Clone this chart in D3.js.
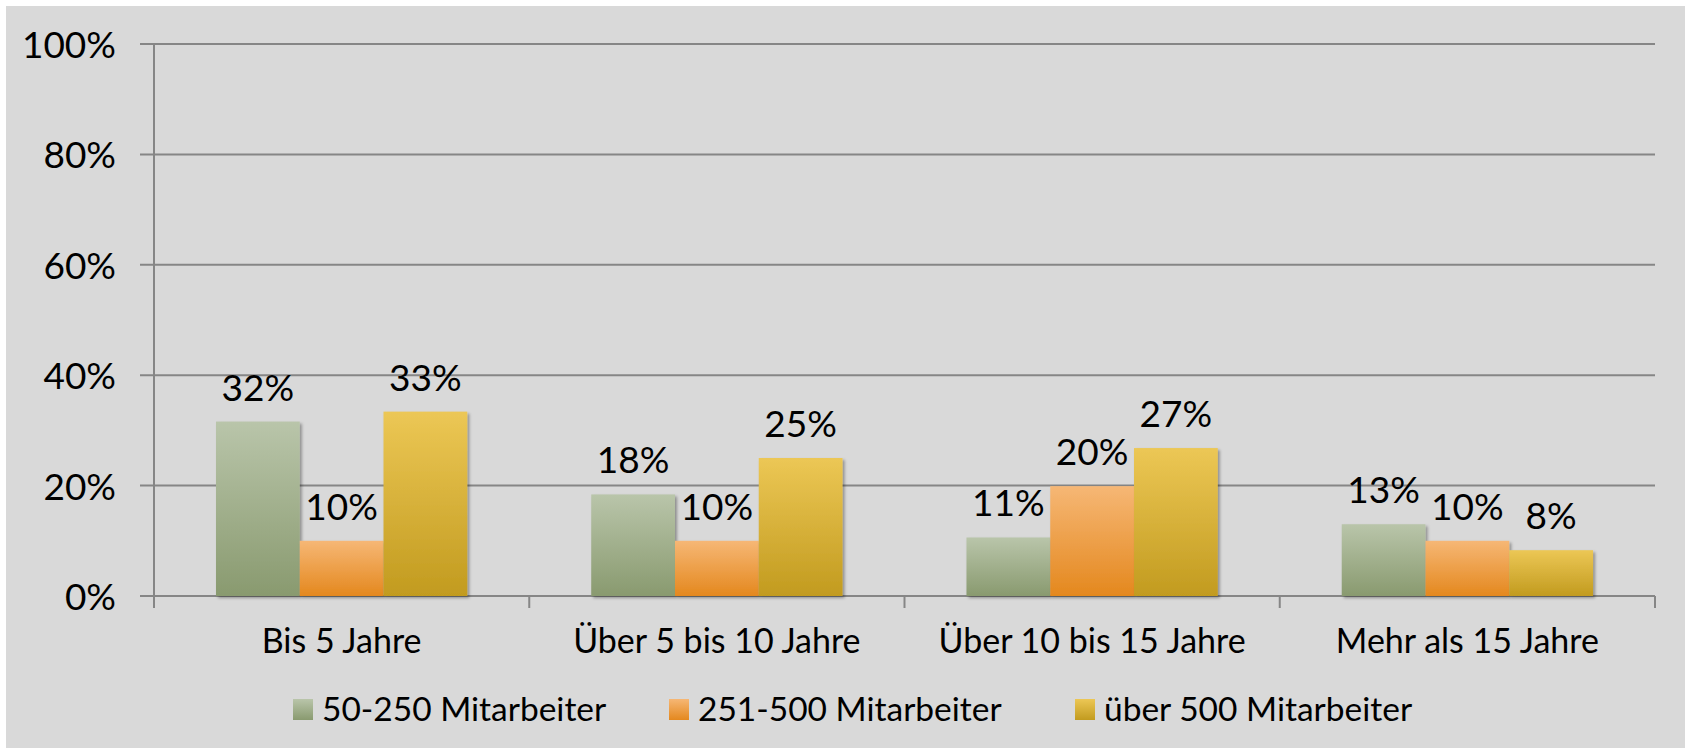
<!DOCTYPE html>
<html>
<head>
<meta charset="utf-8">
<script src="https://cdn.jsdelivr.net/npm/d3@7"></script>
<style>
  html, body { margin: 0; padding: 0; background: #ffffff; }
  svg { display: block; font-family: 'Lato', 'Open Sans', sans-serif; }
</style>
</head>
<body>
<div id="chart"></div>
<script>
const categories = ['Bis 5 Jahre', 'Über 5 bis 10 Jahre', 'Über 10 bis 15 Jahre', 'Mehr als 15 Jahre'];
const seriesNames = ['50-250 Mitarbeiter', '251-500 Mitarbeiter', 'über 500 Mitarbeiter'];
const small = [31.6, 18.4, 10.6, 13.0];
const medium = [10.0, 10.0, 19.9, 10.0];
const large = [33.4, 25.0, 26.8, 8.3];
const yTicks = [0, 20, 40, 60, 80, 100];

const width = 1685;
const height = 748;

const colors = [
  ['#b9c5aa', '#899a6f'],
  ['#f6b775', '#e4881e'],
  ['#ecc755', '#c29b1f']
];

const seriesValues = [small, medium, large];

const svg = d3.select('#chart')
  .append('svg')
  .attr('width', width)
  .attr('height', height);

const defs = svg.append('defs');

colors.forEach((c, i) => {
  const g = defs.append('linearGradient')
    .attr('id', 'grad' + i)
    .attr('x1', 0).attr('y1', 0).attr('x2', 0).attr('y2', 1);
  g.append('stop').attr('offset', '0%').attr('stop-color', c[0]);
  g.append('stop').attr('offset', '100%').attr('stop-color', c[1]);
});

const shadow = defs.append('filter')
  .attr('id', 'shadow')
  .attr('x', '-10%').attr('y', '-10%')
  .attr('width', '130%').attr('height', '130%');
shadow.append('feDropShadow')
  .attr('dx', 2).attr('dy', 2)
  .attr('stdDeviation', 1.5)
  .attr('flood-color', '#000')
  .attr('flood-opacity', 0.35);

// background panel
svg.append('rect')
  .attr('x', 6).attr('y', 6)
  .attr('width', width - 6).attr('height', height - 6)
  .attr('fill', '#d9d9d9');

const x0 = d3.scaleBand()
  .domain(categories)
  .range([154, 1655])
  .paddingInner(0)
  .paddingOuter(0);

const x1 = d3.scaleBand()
  .domain(seriesNames)
  .range([0, x0.bandwidth()])
  .paddingInner(0)
  .paddingOuter(0.74);

const y = d3.scaleLinear()
  .domain([0, 100])
  .range([596, 44]);

// gridlines
svg.append('g')
  .selectAll('line')
  .data(yTicks)
  .enter()
  .append('line')
  .attr('x1', 140)
  .attr('x2', 1655)
  .attr('y1', d => y(d))
  .attr('y2', d => y(d))
  .attr('stroke', '#868686')
  .attr('stroke-width', 2);

// y axis line
svg.append('line')
  .attr('x1', 154).attr('x2', 154)
  .attr('y1', y(100)).attr('y2', y(0) + 12)
  .attr('stroke', '#868686')
  .attr('stroke-width', 2);

// category ticks
const bounds = categories.map(c => x0(c) + x0.bandwidth()).concat([x0(categories[0])]);
svg.append('g')
  .selectAll('line')
  .data(bounds)
  .enter()
  .append('line')
  .attr('x1', d => d)
  .attr('x2', d => d)
  .attr('y1', y(0))
  .attr('y2', y(0) + 12)
  .attr('stroke', '#868686')
  .attr('stroke-width', 2);

// y tick labels
svg.append('g')
  .selectAll('text')
  .data(yTicks)
  .enter()
  .append('text')
  .attr('x', 116)
  .attr('y', d => y(d) + 14)
  .attr('text-anchor', 'end')
  .style('font-size', '37px')
  .attr('fill', '#000')
  .text(d => d + '%');

// bars
const groups = svg.append('g')
  .selectAll('g')
  .data(categories)
  .enter()
  .append('g')
  .attr('transform', c => 'translate(' + x0(c) + ',0)');

const cells = groups.selectAll('g')
  .data((c, ci) => seriesNames.map((s, si) => ({ s, si, v: seriesValues[si][ci] })))
  .enter()
  .append('g');

cells.append('rect')
  .attr('x', d => x1(d.s))
  .attr('y', d => y(d.v))
  .attr('width', x1.bandwidth())
  .attr('height', d => y(0) - y(d.v))
  .attr('fill', d => 'url(#grad' + d.si + ')')
  .attr('filter', 'url(#shadow)');

cells.append('text')
  .attr('x', d => x1(d.s) + x1.bandwidth() / 2)
  .attr('y', d => y(d.v) - 21)
  .attr('text-anchor', 'middle')
  .style('font-size', '37px')
  .attr('fill', '#000')
  .text(d => Math.round(d.v) + '%');

// category labels
svg.append('g')
  .selectAll('text')
  .data(categories)
  .enter()
  .append('text')
  .attr('x', c => x0(c) + x0.bandwidth() / 2)
  .attr('y', 653)
  .attr('text-anchor', 'middle')
  .style('font-size', '34px')
  .attr('fill', '#000')
  .text(c => c);

// legend
const legendX = [293, 669, 1075];
const legend = svg.append('g')
  .selectAll('g')
  .data(seriesNames)
  .enter()
  .append('g')
  .attr('transform', (d, i) => 'translate(' + legendX[i] + ',699)');

legend.append('rect')
  .attr('width', 20)
  .attr('height', 21)
  .attr('fill', (d, i) => 'url(#grad' + i + ')');

legend.append('text')
  .attr('x', 29)
  .attr('y', 22)
  .style('font-size', '33.5px')
  .attr('fill', '#000')
  .text(d => d);
</script>
</body>
</html>
